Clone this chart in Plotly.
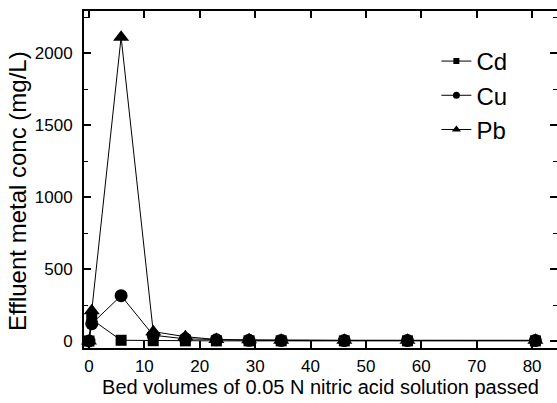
import plotly.graph_objects as go

bed_volumes = [0, 0.5, 5.8, 11.6, 17.4, 23.0, 28.9, 34.7, 46.1, 57.5, 80.6]
cd = [0, 150, 5, 2, 1, 1, 1, 1, 1, 1, 1]
cu = [0, 120, 315, 40, 15, 8, 5, 4, 3, 3, 3]
pb = [0, 210, 2110, 65, 30, 10, 8, 6, 5, 5, 5]

series = [("Cd", cd, "square", 11), ("Cu", cu, "circle", 13), ("Pb", pb, "triangle-up", 14)]
legend_sizes = {"square": 6, "circle": 7, "triangle-up": 8}

FONT = "Liberation Sans, Arial, Helvetica, sans-serif"

fig = go.Figure()
for name, vals, sym, sz in series:
    fig.add_trace(go.Scatter(
        x=bed_volumes, y=vals, mode="lines+markers", name=name,
        line=dict(color="black", width=1),
        marker=dict(symbol=sym, size=sz, color="black"),
        showlegend=False, cliponaxis=False))
for name, vals, sym, sz in series:
    fig.add_trace(go.Scatter(
        x=[None], y=[None], mode="lines+markers", name=name,
        line=dict(color="black", width=1),
        marker=dict(symbol=sym, size=legend_sizes[sym], color="black"),
        showlegend=True))

axis_common = dict(
    showline=True, linecolor="black", linewidth=2, mirror="ticks",
    ticks="inside", ticklen=7, tickwidth=1.5, tickcolor="black",
    showgrid=False, zeroline=False, automargin=False,
    tickfont=dict(family=FONT, size=17, color="black"),
)

fig.update_layout(
    width=557, height=403, autosize=False,
    margin=dict(l=84, r=0, t=11, b=55, pad=0),
    paper_bgcolor="white", plot_bgcolor="white",
    font=dict(family=FONT, color="black"),
    xaxis=dict(
        range=[-0.9, 84.5], tickvals=[0, 10, 20, 30, 40, 50, 60, 70, 80],
        title=dict(text="Bed volumes of 0.05 N nitric acid solution passed",
                   font=dict(family=FONT, size=20, color="black"), standoff=4),
        ticklabelstandoff=2,
        **axis_common),
    yaxis=dict(
        range=[-48.6, 2292], tickvals=[0, 500, 1000, 1500, 2000],
        minor=dict(ticks="inside", ticklen=4, dtick=250, tickcolor="black", tickwidth=1),
        ticklabelstandoff=6,
        **axis_common),
    annotations=[dict(
        text="Effluent metal conc (mg/L)", textangle=-90,
        xref="paper", yref="paper", x=-0.1395, y=0.466,
        xanchor="center", yanchor="middle", showarrow=False,
        font=dict(family=FONT, size=24, color="black"))],
    legend=dict(x=0.745, y=0.917, xanchor="left", yanchor="top",
                font=dict(family=FONT, size=24, color="black"),
                bgcolor="rgba(0,0,0,0)"),
)

fig.write_html("out.html", config={"displayModeBar": False},
               post_script="document.body.style.margin='0';document.body.style.overflow='hidden';")
